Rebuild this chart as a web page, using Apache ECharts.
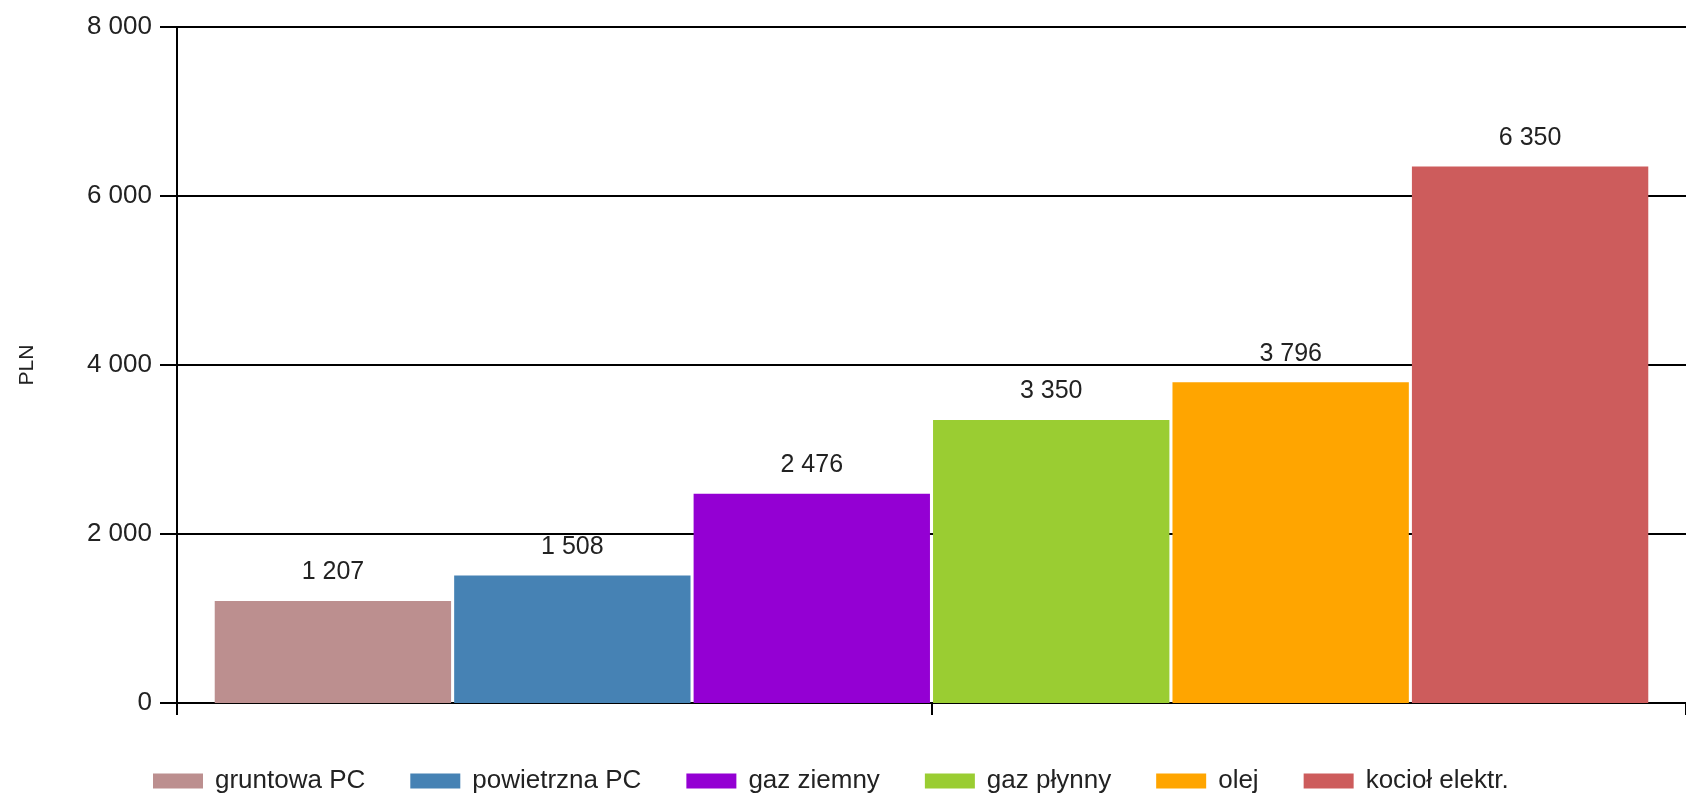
<!DOCTYPE html>
<html>
<head>
<meta charset="utf-8">
<script src="https://cdn.jsdelivr.net/npm/echarts@6/dist/echarts.min.js"></script>
<style>
html,body{margin:0;padding:0;background:#fff;}
#chart{width:1686px;height:795px;}
</style>
</head>
<body>
<div id="chart"></div>
<script>
const seriesNames = ['gruntowa PC', 'powietrzna PC', 'gaz ziemny', 'gaz płynny', 'olej', 'kocioł elektr.'];
const seriesValues = [1207, 1508, 2476, 3350, 3796, 6350];
const seriesColors = ['#BC8F8F', '#4682B4', '#9400D3', '#9ACD32', '#FFA500', '#CD5C5C'];
const yTicks = [0, 2000, 4000, 6000, 8000];
const yAxisName = 'PLN';

function fmt(v) { return String(v).replace(/\B(?=(\d{3})+(?!\d))/g, ' '); }

const FONT = "'Liberation Sans', Arial, sans-serif";
const chart = echarts.init(document.getElementById('chart'), null, {renderer: 'canvas'});

const series = seriesNames.map((name, i) => ({
  name: name,
  type: 'bar',
  xAxisIndex: 0,
  data: [seriesValues[i]],
  itemStyle: { color: seriesColors[i] },
  barCategoryGap: '5%',
  barGap: '1.3%',
  label: {
    show: true,
    position: 'top',
    distance: 16,
    formatter: p => fmt(p.value),
    color: '#222',
    fontFamily: FONT,
    fontSize: 25
  },
  emphasis: { disabled: true }
}));

chart.setOption({
  animation: false,
  backgroundColor: '#ffffff',
  grid: { left: 177, right: 0, top: 27, bottom: 92, containLabel: false },
  legend: {
    data: seriesNames,
    left: 148,
    top: 763,
    itemWidth: 50,
    itemHeight: 15,
    itemGap: 45,
    icon: 'rect',
    textStyle: { color: '#222', fontFamily: FONT, fontSize: 26, padding: [0, 0, 0, 7] }
  },
  xAxis: [
    {
      type: 'category',
      data: [''],
      axisLine: { show: true, lineStyle: { color: '#000', width: 2 } },
      axisTick: { show: false },
      axisLabel: { show: false },
      splitLine: { show: false }
    },
    {
      type: 'value',
      position: 'bottom',
      min: 0, max: 2, interval: 1,
      axisLine: { show: false },
      axisTick: { show: true, length: 12, lineStyle: { color: '#000', width: 2 } },
      axisLabel: { show: false },
      splitLine: { show: false }
    }
  ],
  yAxis: {
    type: 'value',
    min: yTicks[0],
    max: yTicks[yTicks.length - 1],
    interval: yTicks[1] - yTicks[0],
    name: yAxisName,
    nameLocation: 'middle',
    nameGap: 139,
    nameRotate: 90,
    nameTextStyle: { color: '#222', fontFamily: FONT, fontSize: 21 },
    axisLine: { show: true, lineStyle: { color: '#000', width: 2 } },
    axisTick: { show: true, length: 17, lineStyle: { color: '#000', width: 2 } },
    axisLabel: { color: '#222', fontFamily: FONT, fontSize: 26, margin: 25, formatter: v => fmt(v) },
    splitLine: { show: true, lineStyle: { color: '#000', width: 2 } }
  },
  series: series
});
</script>
</body>
</html>
